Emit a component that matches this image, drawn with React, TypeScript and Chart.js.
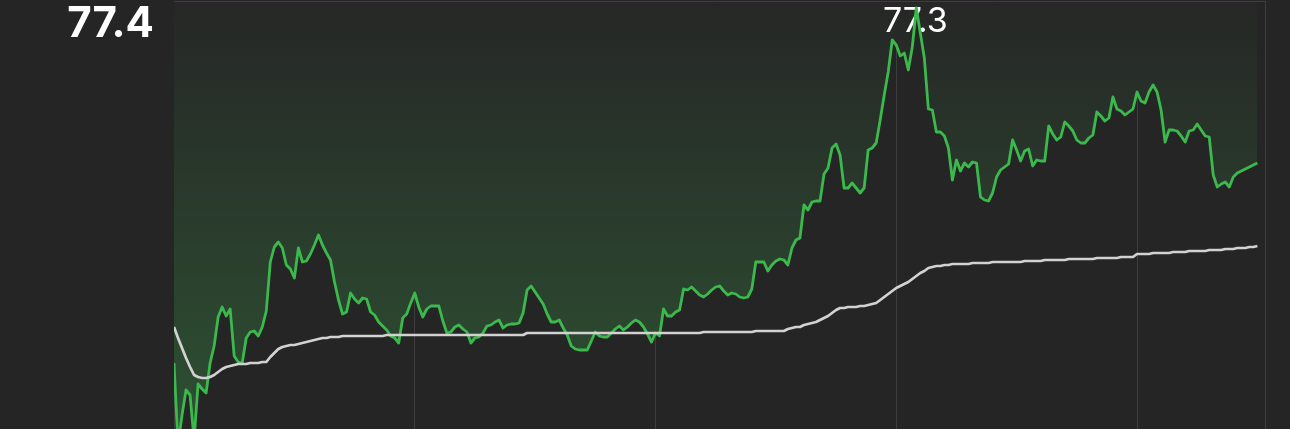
import React, { useEffect, useRef } from "react";
import { Chart, registerables } from "chart.js";

Chart.register(...registerables);

// Minute index of each sample (one point per minute, grid every 60 minutes)
const sessionMinutes = 272;
const hourTicks = [0, 60, 120, 180, 240];

const priceSeries = [
  73.78, 72.96, 73.26, 73.51, 73.46, 73.01, 73.57, 73.52, 73.48, 73.78,
  73.95, 74.24, 74.34, 74.25, 74.32, 73.85, 73.79, 73.78, 74.03, 74.09,
  74.10, 74.05, 74.14, 74.30, 74.79, 74.94, 74.99, 74.93, 74.76, 74.72,
  74.63, 74.93, 74.79, 74.80, 74.87, 74.96, 75.06, 74.96, 74.88, 74.81,
  74.59, 74.41, 74.27, 74.29, 74.48, 74.42, 74.38, 74.43, 74.42, 74.29,
  74.26, 74.19, 74.15, 74.11, 74.05, 74.03, 73.98, 74.23, 74.27, 74.38,
  74.48, 74.34, 74.24, 74.32, 74.35, 74.35, 74.35, 74.20, 74.08, 74.09,
  74.14, 74.16, 74.12, 74.09, 73.98, 74.03, 74.04, 74.08, 74.15, 74.16,
  74.19, 74.21, 74.13, 74.16, 74.17, 74.17, 74.18, 74.28, 74.51, 74.55,
  74.49, 74.43, 74.37, 74.27, 74.19, 74.19, 74.21, 74.13, 74.06, 73.95,
  73.92, 73.91, 73.91, 73.91, 74.00, 74.09, 74.05, 74.04, 74.04, 74.08,
  74.12, 74.15, 74.11, 74.14, 74.18, 74.21, 74.19, 74.14, 74.07, 73.99,
  74.08, 74.05, 74.32, 74.25, 74.25, 74.29, 74.31, 74.52, 74.51, 74.54,
  74.50, 74.46, 74.44, 74.47, 74.51, 74.54, 74.55, 74.50, 74.46, 74.48,
  74.47, 74.44, 74.43, 74.44, 74.52, 74.79, 74.79, 74.79, 74.70, 74.76,
  74.80, 74.82, 74.81, 74.76, 74.93, 75.01, 75.03, 75.36, 75.31, 75.39,
  75.40, 75.40, 75.67, 75.73, 75.93, 75.97, 75.86, 75.53, 75.53, 75.58,
  75.53, 75.48, 75.53, 75.91, 75.93, 75.98, 76.21, 76.46, 76.69, 77.01,
  76.96, 76.85, 76.88, 76.71, 76.94, 77.33, 77.08, 76.83, 76.32, 76.31,
  76.09, 76.09, 76.05, 75.93, 75.61, 75.81, 75.70, 75.78, 75.74, 75.79,
  75.78, 75.44, 75.41, 75.40, 75.48, 75.64, 75.71, 75.74, 75.77, 76.01,
  75.91, 75.80, 75.90, 75.92, 75.75, 75.81, 75.80, 75.80, 76.15, 76.07,
  76.01, 76.04, 76.19, 76.15, 76.10, 76.01, 75.98, 75.98, 76.03, 76.06,
  76.29, 76.25, 76.20, 76.23, 76.44, 76.32, 76.30, 76.26, 76.29, 76.32,
  76.49, 76.40, 76.38, 76.49, 76.56, 76.49, 76.31, 75.99, 76.11, 76.11,
  76.10, 76.05, 75.99, 76.10, 76.11, 76.17, 76.11, 76.05, 76.04, 75.66,
  75.54, 75.57, 75.59, 75.54, 75.64, 75.68, 75.70, 75.72, 75.74, 75.76,
  75.78,
];

const averageSeries = [
  74.14, 74.03, 73.93, 73.83, 73.74, 73.66, 73.64, 73.63, 73.63, 73.64,
  73.66, 73.69, 73.72, 73.74, 73.75, 73.76, 73.77, 73.77, 73.77, 73.78,
  73.78, 73.78, 73.79, 73.79, 73.84, 73.88, 73.92, 73.94, 73.95, 73.96,
  73.96, 73.97, 73.98, 73.99, 74.00, 74.01, 74.02, 74.03, 74.03, 74.04,
  74.04, 74.04, 74.05, 74.05, 74.05, 74.05, 74.05, 74.05, 74.05, 74.05,
  74.05, 74.05, 74.05, 74.06, 74.06, 74.06, 74.06, 74.06, 74.06, 74.06,
  74.06, 74.06, 74.06, 74.06, 74.06, 74.06, 74.06, 74.06, 74.06, 74.06,
  74.06, 74.06, 74.06, 74.06, 74.06, 74.06, 74.06, 74.06, 74.06, 74.06,
  74.06, 74.06, 74.06, 74.06, 74.06, 74.06, 74.06, 74.06, 74.08, 74.08,
  74.08, 74.08, 74.08, 74.08, 74.08, 74.08, 74.08, 74.08, 74.08, 74.08,
  74.08, 74.08, 74.08, 74.08, 74.08, 74.08, 74.08, 74.08, 74.08, 74.08,
  74.08, 74.08, 74.08, 74.08, 74.08, 74.08, 74.08, 74.08, 74.08, 74.08,
  74.08, 74.08, 74.08, 74.08, 74.08, 74.08, 74.08, 74.08, 74.08, 74.08,
  74.08, 74.08, 74.09, 74.09, 74.09, 74.09, 74.09, 74.09, 74.09, 74.09,
  74.09, 74.09, 74.09, 74.09, 74.09, 74.10, 74.10, 74.10, 74.10, 74.10,
  74.10, 74.10, 74.10, 74.12, 74.13, 74.14, 74.14, 74.16, 74.17, 74.18,
  74.19, 74.21, 74.23, 74.25, 74.28, 74.31, 74.33, 74.33, 74.34, 74.34,
  74.34, 74.35, 74.35, 74.36, 74.37, 74.38, 74.41, 74.44, 74.47, 74.50,
  74.53, 74.55, 74.57, 74.59, 74.62, 74.65, 74.68, 74.70, 74.73, 74.74,
  74.75, 74.75, 74.76, 74.76, 74.77, 74.77, 74.77, 74.77, 74.77, 74.78,
  74.78, 74.78, 74.78, 74.78, 74.79, 74.79, 74.79, 74.79, 74.79, 74.79,
  74.79, 74.79, 74.80, 74.80, 74.80, 74.80, 74.80, 74.81, 74.81, 74.81,
  74.81, 74.81, 74.81, 74.82, 74.82, 74.82, 74.82, 74.82, 74.82, 74.82,
  74.83, 74.83, 74.83, 74.83, 74.83, 74.83, 74.84, 74.84, 74.84, 74.84,
  74.87, 74.87, 74.87, 74.87, 74.88, 74.88, 74.88, 74.88, 74.88, 74.89,
  74.89, 74.89, 74.89, 74.90, 74.90, 74.90, 74.90, 74.90, 74.91, 74.91,
  74.91, 74.91, 74.92, 74.92, 74.92, 74.93, 74.93, 74.93, 74.94, 74.94,
  74.95,
];

const yTop = 77.4;
const yBottom = 73.12;

const BG = "#252525";
const GRID = "#3d3d3d";

const labelPlugin = {
  id: "priceLabels",
  beforeDatasetsDraw(chart: any) {
    const { ctx, chartArea } = chart;
    ctx.save();
    ctx.strokeStyle = GRID;
    ctx.lineWidth = 1;
    ctx.beginPath();
    ctx.moveTo(chartArea.left, chartArea.top + 0.5);
    ctx.lineTo(chartArea.right, chartArea.top + 0.5);
    ctx.moveTo(Math.round(chartArea.right) + 0.5, chartArea.top);
    ctx.lineTo(Math.round(chartArea.right) + 0.5, chartArea.bottom);
    ctx.stroke();

    // peak label (drawn after the fill, under the lines)
    let maxV = -Infinity;
    let maxI = 0;
    priceSeries.forEach((v, i) => {
      if (v > maxV) {
        maxV = v;
        maxI = i;
      }
    });
    const px = chart.scales.x.getPixelForValue(maxI);
    ctx.fillStyle = "#ffffff";
    ctx.font = "34px Inter, 'Liberation Sans', sans-serif";
    ctx.textAlign = "center";
    ctx.textBaseline = "alphabetic";
    ctx.fillText((Math.floor(maxV * 10) / 10).toFixed(1), px - 1, chartArea.top + 31);

    // axis top value
    ctx.font = "bold 42px Inter, 'Liberation Sans', sans-serif";
    ctx.textAlign = "right";
    ctx.fillText(yTop.toFixed(1), chartArea.left - 20, chartArea.top + 36);
    ctx.restore();
  },
};

export default function App() {
  const canvasRef = useRef<HTMLCanvasElement | null>(null);

  useEffect(() => {
    document.body.style.margin = "0";
    document.body.style.background = BG;
    const canvas = canvasRef.current;
    if (!canvas) return;

    const chart = new Chart(canvas, {
      type: "line",
      data: {
        datasets: [
          {
            label: "Average",
            data: averageSeries.map((v, i) => ({ x: i, y: v })),
            borderColor: "#d2d2d2",
            borderWidth: 2.7,
            pointRadius: 0,
            fill: false,
            tension: 0,
            borderJoinStyle: "round",
            order: 0,
          },
          {
            label: "Price",
            data: priceSeries.map((v, i) => ({ x: i, y: v })),
            borderColor: "#3cb94d",
            borderWidth: 2.8,
            pointRadius: 0,
            tension: 0,
            borderJoinStyle: "round",
            fill: "end",
            order: 1,
            backgroundColor: (context: any) => {
              const { chart: c } = context;
              const area = c.chartArea;
              if (!area) return "rgba(0,0,0,0)";
              const g = c.ctx.createLinearGradient(0, area.top, 0, area.bottom);
              g.addColorStop(0, "#262726");
              g.addColorStop(1, "#2d5032");
              return g;
            },
          },
        ],
      },
      options: {
        responsive: false,
        animation: false,
        events: [],
        layout: { padding: { left: 174, right: 24.6, top: 1, bottom: 0 } },
        plugins: {
          legend: { display: false },
          tooltip: { enabled: false },
          filler: { drawTime: "beforeDatasetsDraw" },
        } as any,
        scales: {
          x: {
            type: "linear",
            min: 0,
            max: sessionMinutes,
            afterBuildTicks: (axis: any) => {
              axis.ticks = hourTicks.map((v) => ({ value: v }));
            },
            ticks: { display: false },
            grid: { color: GRID, lineWidth: 1, drawTicks: false },
            border: { display: false },
          },
          y: {
            display: false,
            min: yBottom,
            max: yTop,
          },
        },
      },
      plugins: [labelPlugin],
    });

    return () => chart.destroy();
  }, []);

  return (
    <div style={{ width: 1290, height: 429, background: BG }}>
      <canvas ref={canvasRef} width={1290} height={429} style={{ display: "block" }} />
    </div>
  );
}
